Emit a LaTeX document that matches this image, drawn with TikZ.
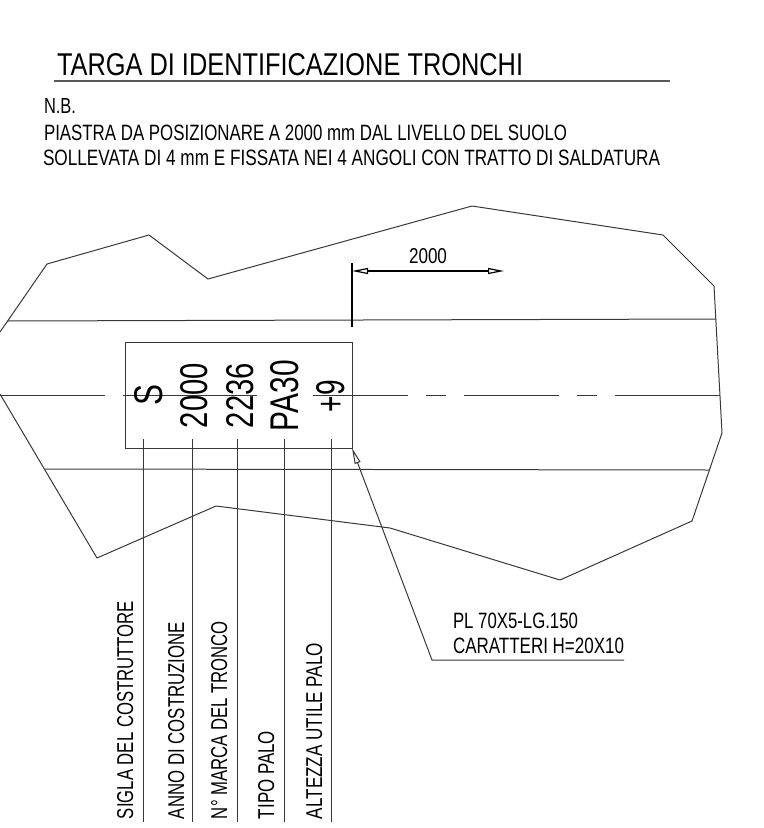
\documentclass[tikz,border=0pt]{standalone}
\usepackage{fontspec}
\usepackage{graphicx}
\setmainfont{Liberation Sans}
\usetikzlibrary{arrows.meta}
\newcommand{\fit}[3]{\resizebox{#1bp}{#2bp}{#3}}
\tikzset{
  thin line/.style={line width=1bp,draw=black!78},
  title line/.style={line width=1.3bp,draw=black!65},
  dim line/.style={line width=1.2bp,draw=black},
  txt/.style={inner sep=0pt,outer sep=0pt,anchor=base west,text=black},
  vtxt/.style={inner sep=0pt,outer sep=0pt,anchor=base west,rotate=90,text=black},
  plate/.style={inner sep=0pt,outer sep=0pt,anchor=base,rotate=90,text=black}
}
\begin{document}
\begin{tikzpicture}[x=1bp,y=-1bp]
\useasboundingbox (0,0) rectangle (764,828);
% title and notes
\node[txt] (title) at (57,75) {\fit{466}{22}{TARGA DI IDENTIFICAZIONE TRONCHI}};
\coordinate (ulA) at (54,81); \coordinate (ulB) at (670,81);
\draw[title line] (ulA) -- (ulB);
\node[txt] (nb) at (44,113) {\fit{32}{15}{N.B.}};
\node[txt] (n1) at (44,140) {\fit{523}{15.5}{PIASTRA DA POSIZIONARE A 2000 mm DAL LIVELLO DEL SUOLO}};
\node[txt] (n2) at (43,165) {\fit{617}{15.5}{SOLLEVATA DI 4 mm E FISSATA NEI 4 ANGOLI CON TRATTO DI SALDATURA}};
% outline
\draw[thin line,line join=round] (0,332) -- (47,264) -- (149,235) -- (208,279) -- (472,206) -- (663,235) -- (714,286) -- (722,433) -- (692,521) -- (560,580) -- (390,528) -- (216,506) -- (97,558) -- (0,394);
% horizontal lines
\coordinate (h1a) at (7,321); \coordinate (h1b) at (716,319);
\draw[thin line] (h1a) -- (h1b);
\coordinate (h2a) at (45,469); \coordinate (h2b) at (709,470);
\draw[thin line] (h2a) -- (h2b);
% centre line
\foreach \a/\b in {0/105,123/257,313/408,426/446,464/559,577/597,615/720}
  \draw[thin line] (\a,395) -- (\b,395);
% plate
\node[draw=black!78,line width=1bp,inner sep=0pt,outer sep=0pt,minimum width=227bp,minimum height=106bp] (pl) at (238.5,395) {};
\node[plate] (s) at (162,395) {\fit{21}{28}{S}};
\node[plate] (y) at (207,395.5) {\fit{65}{27}{2000}};
\node[plate] (m) at (253,395.5) {\fit{65}{27}{2236}};
\node[plate] (t) at (298,395.5) {\fit{71}{28}{PA30}};
\node[plate] (h) at (344,396) {\fit{32}{28}{+9}};
% leader verticals
\foreach \n/\x/\bx/\tx/\lab/\len in {a/143/133/sigla/SIGLA DEL COSTRUTTORE/218,b/192/184/anno/ANNO DI COSTRUZIONE/197,c/237/227/marca/N° MARCA DEL TRONCO/198,d/284/274/tipo/TIPO PALO/88,e/331/322/alt/ALTEZZA UTILE PALO/176}{
  \coordinate (\n1) at (\x,439); \coordinate (\n2) at (\x,822);
  \draw[thin line] (\n1) -- (\n2);
  \node[vtxt] (\tx) at (\bx,819) {\fit{\len}{16}{\lab}};
}
% dimension
\coordinate (dA) at (352,263); \coordinate (dB) at (352,327);
\draw[dim line] (dA) -- (dB);
\coordinate (d1) at (352,271); \coordinate (d2) at (504,271);
\draw[dim line,{Triangle[open,length=16bp,width=6bp]}-{Triangle[open,length=16bp,width=6bp]}] (d1) -- (d2);
\node[txt] (dim) at (409,263) {\fit{38}{15}{2000}};
% leader
\coordinate (la) at (pl.south east); \coordinate (lb) at (432,660); \coordinate (lc) at (624,660);
\draw[thin line,{Triangle[open,length=16bp,width=6bp]}-] (la) -- (lb) -- (lc);
\node[txt] (l1) at (453,628) {\fit{125}{15.5}{PL 70X5-LG.150}};
\node[txt] (l2) at (453,653) {\fit{171}{15.5}{CARATTERI H=20X10}};
\end{tikzpicture}
\end{document}
